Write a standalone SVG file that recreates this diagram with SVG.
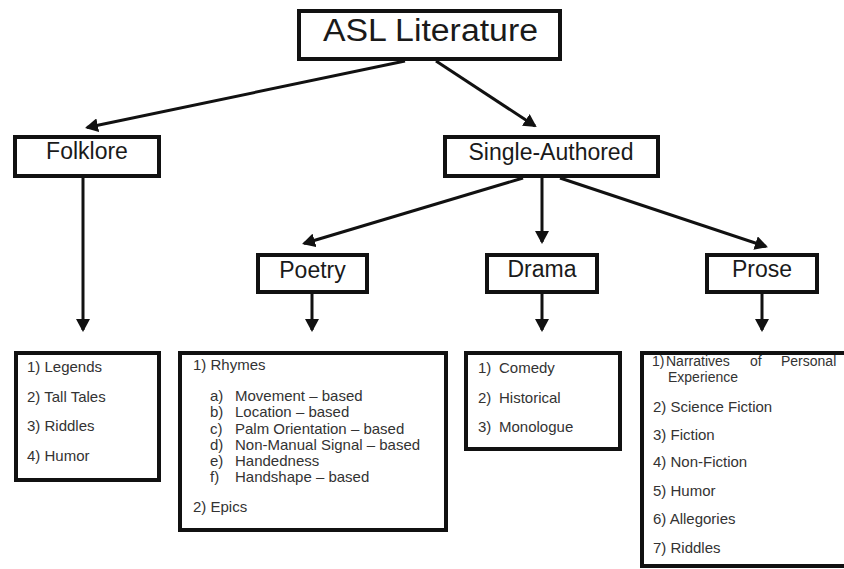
<svg xmlns="http://www.w3.org/2000/svg" width="844" height="569" viewBox="0 0 844 569">
<defs>
<style>
.box{fill:#fff;stroke:#111;stroke-width:4}
.hd{font-family:"Liberation Sans",Arial,sans-serif;font-size:23px;fill:#1a1a1a;text-anchor:middle}
.li{font-family:"Liberation Sans",Arial,sans-serif;font-size:15px;fill:#333}
.sm{font-size:14px}
.cn{stroke:#111;stroke-width:3;fill:none;marker-end:url(#ah)}
</style>
<marker id="ah" markerWidth="14" markerHeight="14" refX="11" refY="7" orient="auto" markerUnits="userSpaceOnUse">
<path d="M0,0 L13,7 L0,14 z" fill="#111"/>
</marker>
</defs>
<rect width="844" height="569" fill="#fff"/>
<g id="connectors">
<line class="cn" x1="405" y1="61" x2="87" y2="127.5"/>
<line class="cn" x1="436" y1="61" x2="535" y2="126"/>
<line class="cn" x1="83" y1="177" x2="83" y2="330"/>
<line class="cn" x1="523" y1="178" x2="304" y2="243.5"/>
<line class="cn" x1="542" y1="178" x2="542" y2="242"/>
<line class="cn" x1="560" y1="178" x2="766" y2="246.5"/>
<line class="cn" x1="312" y1="294" x2="312" y2="330"/>
<line class="cn" x1="542" y1="294" x2="542" y2="330"/>
<line class="cn" x1="762" y1="294" x2="762" y2="330"/>
</g>
<g id="asl">
<rect class="box" x="299" y="11" width="261" height="48"/>
<text class="hd" x="430.5" y="41" style="font-size:31px" textLength="215" lengthAdjust="spacingAndGlyphs">ASL Literature</text>
</g>
<g id="folklore">
<rect class="box" x="15" y="137" width="144" height="39"/>
<text class="hd" x="87" y="159">Folklore</text>
</g>
<g id="single">
<rect class="box" x="445" y="137" width="213" height="39"/>
<text class="hd" x="551" y="160">Single-Authored</text>
</g>
<g id="poetry">
<rect class="box" x="258" y="255" width="109" height="37"/>
<text class="hd" x="312.5" y="278">Poetry</text>
</g>
<g id="drama">
<rect class="box" x="487" y="255" width="110" height="37"/>
<text class="hd" x="542" y="277">Drama</text>
</g>
<g id="prose">
<rect class="box" x="707" y="255" width="110" height="37"/>
<text class="hd" x="762" y="277">Prose</text>
</g>
<g id="folklore-list">
<rect class="box" x="16" y="353" width="143" height="127"/>
<text class="li" x="27" y="372">1) Legends</text>
<text class="li" x="27" y="402">2) Tall Tales</text>
<text class="li" x="27" y="431">3) Riddles</text>
<text class="li" x="27" y="461">4) Humor</text>
</g>
<g id="poetry-list">
<rect class="box" x="180" y="353" width="266" height="177"/>
<text class="li" x="193" y="370">1) Rhymes</text>
<text class="li" x="210" y="401">a)</text><text class="li" x="235" y="401">Movement – based</text>
<text class="li" x="210" y="417">b)</text><text class="li" x="235" y="417">Location – based</text>
<text class="li" x="210" y="434">c)</text><text class="li" x="235" y="434">Palm Orientation – based</text>
<text class="li" x="210" y="450">d)</text><text class="li" x="235" y="450">Non-Manual Signal – based</text>
<text class="li" x="210" y="466">e)</text><text class="li" x="235" y="466">Handedness</text>
<text class="li" x="210" y="482">f)</text><text class="li" x="235" y="482">Handshape – based</text>
<text class="li" x="193" y="512">2) Epics</text>
</g>
<g id="drama-list">
<rect class="box" x="466" y="353" width="154" height="96"/>
<text class="li" x="478" y="373">1)</text><text class="li" x="499" y="373">Comedy</text>
<text class="li" x="478" y="403">2)</text><text class="li" x="499" y="403">Historical</text>
<text class="li" x="478" y="432">3)</text><text class="li" x="499" y="432">Monologue</text>
</g>
<g id="prose-list">
<rect class="box" x="642" y="353" width="220" height="213"/>
<text class="li sm" x="652" y="366">1)</text>
<text class="li sm" x="666" y="366">Narratives</text>
<text class="li sm" x="750" y="366">of</text>
<text class="li sm" x="781" y="366">Personal</text>
<text class="li sm" x="668" y="382">Experience</text>
<text class="li" x="653" y="412">2)  Science Fiction</text>
<text class="li" x="653" y="440">3)  Fiction</text>
<text class="li" x="653" y="467">4)  Non-Fiction</text>
<text class="li" x="653" y="496">5)  Humor</text>
<text class="li" x="653" y="524">6)  Allegories</text>
<text class="li" x="653" y="553">7)  Riddles</text>
</g>
</svg>
